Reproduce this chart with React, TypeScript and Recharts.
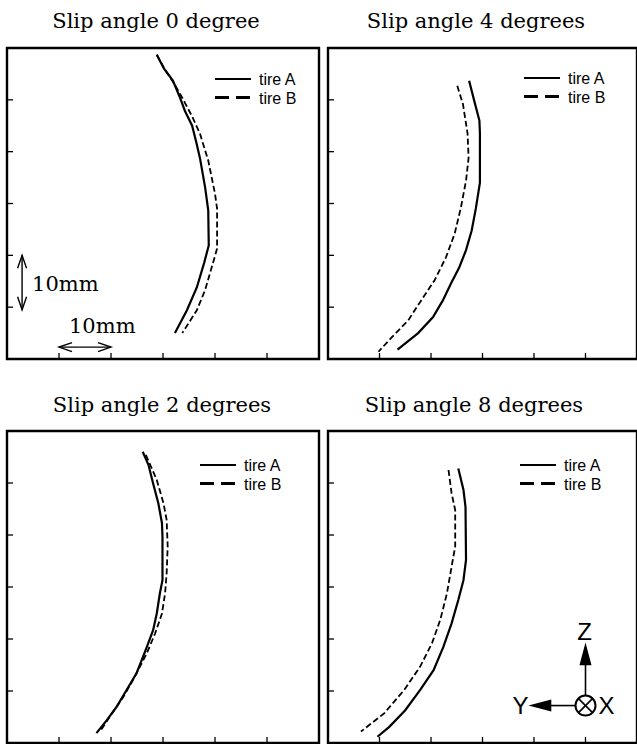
import React from 'react';
import { LineChart, Line, XAxis, YAxis, ReferenceArea, ReferenceLine, ReferenceDot } from 'recharts';

// contact patch outlines in mm (x: lateral, y: along the tread)
const slip0TireA = [
  { x: 28.8, y: 58.7 }, { x: 30.2, y: 56.0 }, { x: 31.9, y: 53.7 }, { x: 33.2, y: 50.6 },
  { x: 34.2, y: 47.9 }, { x: 35.6, y: 45.0 }, { x: 36.4, y: 41.8 }, { x: 37.1, y: 38.8 },
  { x: 38.1, y: 33.1 }, { x: 38.7, y: 28.7 }, { x: 38.8, y: 21.9 }, { x: 37.9, y: 18.5 },
  { x: 36.5, y: 13.8 }, { x: 34.6, y: 9.4 }, { x: 32.3, y: 5.0 },
];
const slip0TireB = [
  { x: 28.8, y: 58.7 }, { x: 30.4, y: 55.8 }, { x: 32.1, y: 53.2 }, { x: 33.7, y: 50.4 },
  { x: 35.6, y: 46.8 }, { x: 37.1, y: 43.5 }, { x: 38.7, y: 38.3 }, { x: 40.0, y: 31.9 },
  { x: 40.4, y: 29.0 }, { x: 40.4, y: 21.3 }, { x: 39.6, y: 18.5 }, { x: 38.1, y: 13.3 },
  { x: 36.5, y: 9.4 }, { x: 33.7, y: 5.0 },
];

const slip4TireA = [
  { x: 27.4, y: 53.7 }, { x: 28.4, y: 49.8 }, { x: 29.4, y: 46.0 }, { x: 29.5, y: 43.5 },
  { x: 29.5, y: 34.0 }, { x: 28.7, y: 29.0 }, { x: 27.9, y: 24.8 }, { x: 26.8, y: 21.0 },
  { x: 25.5, y: 17.7 }, { x: 23.9, y: 14.6 }, { x: 22.3, y: 11.3 }, { x: 20.4, y: 8.1 },
  { x: 17.5, y: 5.0 }, { x: 13.5, y: 1.8 },
];
const slip4TireB = [
  { x: 25.1, y: 52.7 }, { x: 26.2, y: 49.2 }, { x: 27.1, y: 43.5 }, { x: 27.3, y: 38.8 },
  { x: 26.8, y: 34.4 }, { x: 25.8, y: 29.2 }, { x: 24.6, y: 24.2 }, { x: 22.9, y: 19.6 },
  { x: 20.7, y: 15.2 }, { x: 18.1, y: 11.3 }, { x: 15.6, y: 7.5 }, { x: 12.4, y: 4.2 },
  { x: 9.8, y: 1.4 },
];

const slip2TireA = [
  { x: 26.1, y: 56.0 }, { x: 27.2, y: 53.5 }, { x: 28.1, y: 49.9 }, { x: 29.1, y: 46.1 },
  { x: 29.8, y: 42.3 }, { x: 29.9, y: 39.7 }, { x: 29.9, y: 31.3 }, { x: 29.4, y: 28.8 },
  { x: 28.8, y: 24.9 }, { x: 28.1, y: 21.7 }, { x: 26.9, y: 18.5 }, { x: 24.9, y: 13.4 },
  { x: 23.0, y: 10.2 }, { x: 21.1, y: 7.0 }, { x: 19.2, y: 4.4 }, { x: 17.2, y: 1.9 },
];
const slip2TireB = [
  { x: 26.7, y: 55.4 }, { x: 28.8, y: 50.6 }, { x: 30.1, y: 46.1 }, { x: 30.7, y: 42.9 },
  { x: 30.9, y: 37.8 }, { x: 30.7, y: 32.6 }, { x: 30.4, y: 28.8 }, { x: 29.8, y: 24.9 },
  { x: 28.5, y: 21.1 }, { x: 26.9, y: 17.3 }, { x: 24.6, y: 12.8 }, { x: 22.4, y: 8.9 },
  { x: 19.8, y: 5.1 }, { x: 17.9, y: 2.2 },
];

const slip8TireA = [
  { x: 25.3, y: 52.8 }, { x: 26.3, y: 48.7 }, { x: 26.7, y: 45.4 }, { x: 26.8, y: 35.2 },
  { x: 26.3, y: 31.3 }, { x: 25.3, y: 27.5 }, { x: 24.0, y: 23.0 }, { x: 22.4, y: 18.5 },
  { x: 20.5, y: 14.0 }, { x: 17.9, y: 10.2 }, { x: 15.0, y: 6.3 }, { x: 11.9, y: 3.1 },
  { x: 9.6, y: 1.2 },
];
const slip8TireB = [
  { x: 23.4, y: 52.5 }, { x: 24.0, y: 48.0 }, { x: 24.7, y: 44.8 }, { x: 24.7, y: 37.8 },
  { x: 24.0, y: 33.9 }, { x: 23.1, y: 28.8 }, { x: 21.8, y: 23.7 }, { x: 20.2, y: 19.2 },
  { x: 17.9, y: 14.7 }, { x: 14.8, y: 10.2 }, { x: 10.9, y: 5.7 }, { x: 6.4, y: 2.2 },
];

const axisTicks = [10, 20, 30, 40, 50];
const legendNames = ['tire A', 'tire B'];
const scaleLabel = '10mm';

const SERIF = '"DejaVu Serif", serif';
const SANS = '"Liberation Sans", Arial, sans-serif';
const PAD = 4;

// tick marks only, no labels
const NoLabel = () => <g />;

// double-headed scale arrow with its label, drawn between the segment ends
const ScaleArrow = (props: any) => {
  const { x1, y1, x2, y2 } = props;
  const head = 13;
  const half = 4.5;
  const vertical = Math.abs(x2 - x1) < 1;
  let d = '';
  let tx = 0;
  let ty = 0;
  if (vertical) {
    const t = Math.min(y1, y2);
    const b = Math.max(y1, y2);
    d = `M${x1 - half},${t + head}L${x1},${t}L${x1 + half},${t + head}M${x1 - half},${b - head}L${x1},${b}L${x1 + half},${b - head}`;
    tx = x1 + 10;
    ty = (t + b) / 2 + 8;
  } else {
    const l = Math.min(x1, x2);
    const r = Math.max(x1, x2);
    d = `M${l + head},${y1 - half}L${l},${y1}L${l + head},${y1 + half}M${r - head},${y1 - half}L${r},${y1}L${r - head},${y1 + half}`;
    tx = l + 10;
    ty = y1 - 14;
  }
  return (
    <g>
      <line x1={x1} y1={y1} x2={x2} y2={y2} stroke="#000" strokeWidth={1.4} />
      <path d={d} fill="none" stroke="#000" strokeWidth={1.4} />
      <text x={tx} y={ty} fontFamily={SERIF} fontSize={21} fill="#000">{scaleLabel}</text>
    </g>
  );
};

// coordinate system glyph: Z up, Y left, X into the page
const AxesGlyph = (props: any) => {
  const { cx, cy } = props;
  const r = 10;
  const k = r * 0.7;
  const font = '"Liberation Sans Narrow", "Liberation Sans", Arial, sans-serif';
  return (
    <g stroke="#000" strokeWidth={1.6}>
      <line x1={cx} y1={cy - r} x2={cx} y2={cy - 42} />
      <path d={`M${cx - 5},${cy - 41}L${cx},${cy - 60}L${cx + 5},${cy - 41}Z`} fill="#000" />
      <line x1={cx - r} y1={cy} x2={cx - 36} y2={cy} />
      <path d={`M${cx - 35},${cy - 5}L${cx - 54},${cy}L${cx - 35},${cy + 5}Z`} fill="#000" />
      <circle cx={cx} cy={cy} r={r} fill="#fff" strokeWidth={2} />
      <line x1={cx - k} y1={cy - k} x2={cx + k} y2={cy + k} />
      <line x1={cx - k} y1={cy + k} x2={cx + k} y2={cy - k} />
      <g stroke="none" fill="#000" fontFamily={font} fontSize={24} textAnchor="middle">
        <text x={cx - 1} y={cy - 66}>Z</text>
        <text x={cx - 65} y={cy + 8}>Y</text>
        <text x={cx + 21} y={cy + 8}>X</text>
      </g>
    </g>
  );
};

const panels = [
  { title: 'Slip angle 0 degree', left: 7, top: 48, width: 312, height: 311, titleX: 156, titleY: 28, legX: 208, legY: 31, a: slip0TireA, b: slip0TireB, scale: true, glyph: false },
  { title: 'Slip angle 4 degrees', left: 328, top: 48, width: 309, height: 311, titleX: 476, titleY: 28, legX: 196, legY: 30, a: slip4TireA, b: slip4TireB, scale: false, glyph: false },
  { title: 'Slip angle 2 degrees', left: 7, top: 431, width: 312, height: 312, titleX: 162, titleY: 412, legX: 193, legY: 34, a: slip2TireA, b: slip2TireB, scale: false, glyph: false },
  { title: 'Slip angle 8 degrees', left: 328, top: 431, width: 309, height: 312, titleX: 474, titleY: 412, legX: 192, legY: 34, a: slip8TireA, b: slip8TireB, scale: false, glyph: true },
];

const Panel = ({ p }: { p: (typeof panels)[number] }) => (
  <div style={{ position: 'absolute', left: p.left - PAD, top: p.top - PAD }}>
    <LineChart
      width={p.width + PAD * 2}
      height={p.height + PAD * 2}
      margin={{ top: PAD, right: PAD, bottom: PAD, left: PAD }}
    >
      <XAxis
        type="number"
        dataKey="x"
        domain={[0, 60]}
        ticks={axisTicks}
        allowDataOverflow
        mirror
        tick={NoLabel}
        tickSize={6}
        axisLine={false}
        tickLine={{ stroke: '#000', strokeWidth: 1.3 }}
      />
      <YAxis
        type="number"
        dataKey="y"
        domain={[0, 60]}
        ticks={axisTicks}
        allowDataOverflow
        mirror
        tick={NoLabel}
        tickSize={6}
        axisLine={false}
        tickLine={{ stroke: '#000', strokeWidth: 1.3 }}
      />
      <ReferenceArea x1={0} x2={60} y1={0} y2={60} fill="none" fillOpacity={0} stroke="#000" strokeWidth={2.4} />
      <Line
        data={p.a}
        dataKey="y"
        type="linear"
        stroke="#000"
        strokeWidth={2.2}
        dot={false}
        activeDot={false}
        isAnimationActive={false}
      />
      <Line
        data={p.b}
        dataKey="y"
        type="linear"
        stroke="#000"
        strokeWidth={1.8}
        strokeDasharray="6 3"
        dot={false}
        activeDot={false}
        isAnimationActive={false}
      />
      {p.scale && (
        <ReferenceLine segment={[{ x: 2.9, y: 9.5 }, { x: 2.9, y: 20 }]} shape={ScaleArrow} ifOverflow="visible" />
      )}
      {p.scale && (
        <ReferenceLine segment={[{ x: 10, y: 2.3 }, { x: 20, y: 2.3 }]} shape={ScaleArrow} ifOverflow="visible" />
      )}
      {p.glyph && <ReferenceDot x={50} y={7.2} r={10} shape={AxesGlyph} ifOverflow="visible" />}
    </LineChart>
  </div>
);

// legend rows: solid sample for tire A, heavy dashes for tire B
const Legend = ({ x, y }: { x: number; y: number }) => (
  <g fontFamily={SANS} fontSize={16} fill="#000">
    <line x1={x} y1={y} x2={x + 36} y2={y} stroke="#000" strokeWidth={2} />
    <text x={x + 44} y={y + 6}>{legendNames[0]}</text>
    <line x1={x} y1={y + 18.5} x2={x + 36} y2={y + 18.5} stroke="#000" strokeWidth={3.2} strokeDasharray="14 7" />
    <text x={x + 44} y={y + 24.5}>{legendNames[1]}</text>
  </g>
);

export default function App() {
  return (
    <div style={{ position: 'absolute', left: 0, top: 0, width: 637, height: 744, overflow: 'hidden', background: '#fff' }}>
      <svg width={637} height={744} style={{ position: 'absolute', left: 0, top: 0 }}>
        {panels.map((p) => (
          <g key={p.title}>
            <text x={p.titleX} y={p.titleY} textAnchor="middle" fontFamily={SERIF} fontSize={21} fill="#000">
              {p.title}
            </text>
            <Legend x={p.left + p.legX} y={p.top + p.legY} />
          </g>
        ))}
      </svg>
      {panels.map((p) => (
        <Panel key={p.title} p={p} />
      ))}
    </div>
  );
}
